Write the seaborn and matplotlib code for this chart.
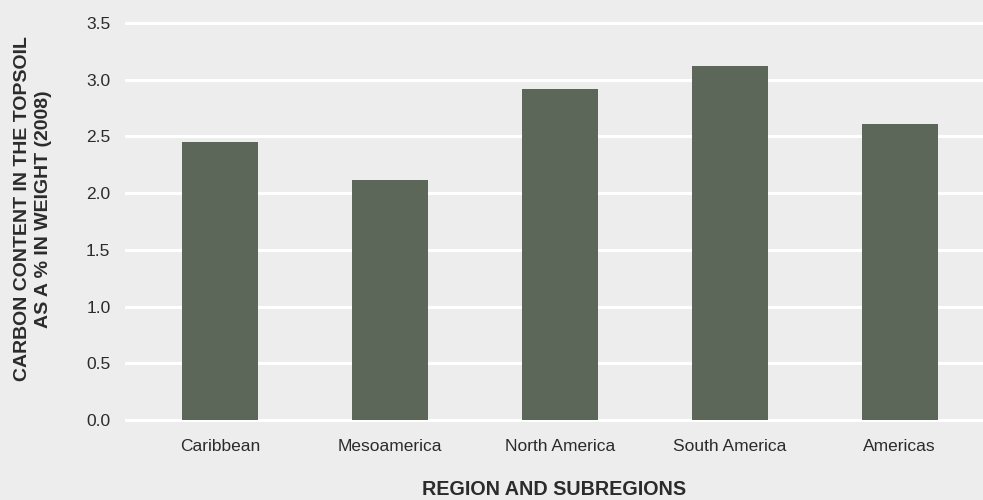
import pandas as pd
import matplotlib.pyplot as plt
import seaborn as sns

# Values
regions = ['Caribbean', 'Mesoamerica', 'North America', 'South America', 'Americas']
carbon = [2.45, 2.12, 2.92, 3.12, 2.61]
yticks = [0.0, 0.5, 1.0, 1.5, 2.0, 2.5, 3.0, 3.5]

bg = '#ededed'
bar_color = '#5c6659'
text_color = '#2b2b2b'

sns.set_style('whitegrid')
plt.rcParams['font.family'] = ['Liberation Sans', 'DejaVu Sans']

df = pd.DataFrame({'Region': regions, 'Carbon': carbon})

fig = plt.figure(figsize=(9.83, 5), dpi=100, facecolor=bg)
ax = fig.add_axes([125 / 983, (500 - 422.3) / 500, 858 / 983, (422.3 - 20.7) / 500])
ax.set_facecolor(bg)

sns.barplot(data=df, x='Region', y='Carbon', color=bar_color, saturation=1,
            width=0.45, linewidth=0, ax=ax, zorder=3)

ax.set_xlim(-0.56, 4.49)
ax.set_ylim(-0.02, 3.52)
ax.set_yticks(yticks)
ax.set_yticklabels([f'{t:.1f}' for t in yticks])

ax.grid(axis='y', color='white', linewidth=2.2, zorder=0)
ax.grid(axis='x', visible=False)
for s in ax.spines.values():
    s.set_visible(False)

ax.tick_params(axis='both', length=0, labelsize=12.5, labelcolor=text_color)
ax.tick_params(axis='y', pad=10.5)
ax.tick_params(axis='x', pad=12)

ax.set_xlabel('REGION AND SUBREGIONS', fontsize=14.2, fontweight='bold',
              color=text_color, labelpad=19)
ax.set_ylabel('CARBON CONTENT IN THE TOPSOIL\nAS A % IN WEIGHT (2008)', fontsize=14,
              fontweight='bold', color=text_color, linespacing=1.3)
ax.yaxis.set_label_coords(-0.085, 0.531)

fig.savefig('out.png', dpi=100, facecolor=bg)
